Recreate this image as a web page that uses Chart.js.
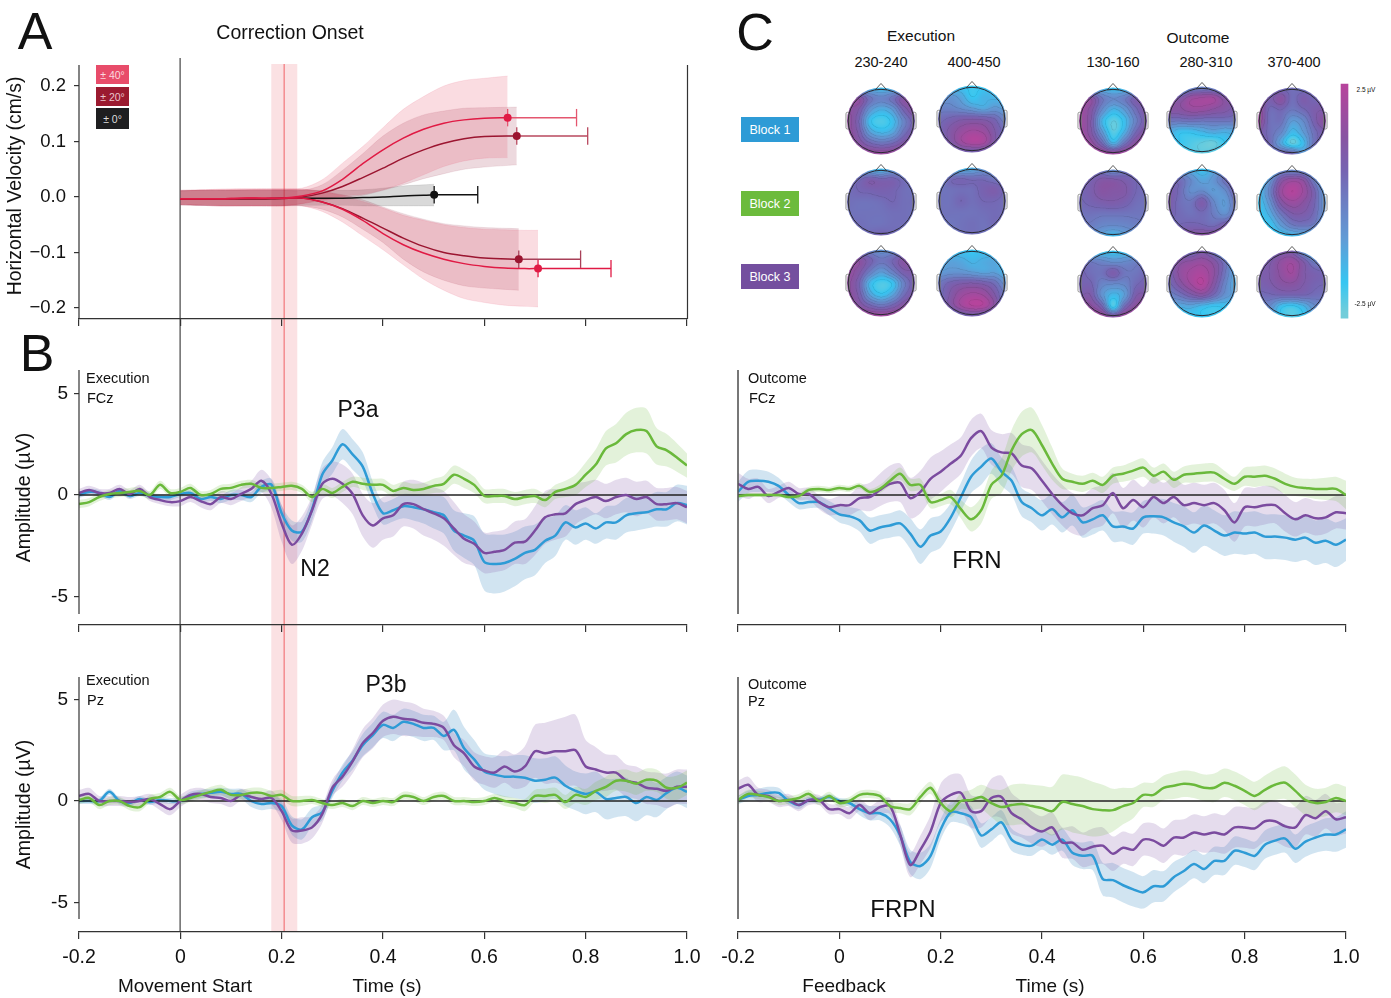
<!DOCTYPE html>
<html>
<head>
<meta charset="utf-8">
<title>Correction onset and ERP figure</title>
<script src="https://cdn.jsdelivr.net/npm/chart.js@4/dist/chart.umd.min.js"></script>
<style>
    html, body { margin: 0; padding: 0; background: #fff; }
    #figure { position: relative; width: 1391px; height: 998px; overflow: hidden; font-family: "Liberation Sans", Arial, sans-serif; color: #111; }
    #figure canvas { position: absolute; }
    .label { position: absolute; white-space: nowrap; line-height: 1; z-index: 5; }
    .box { position: absolute; z-index: 4; color: #fff; display: flex; align-items: center; justify-content: center; }
</style>
</head>
<body>
<div id="figure"></div>
<script>
// ---- shared time axis (s) for the ERP traces ----
const timePoints = [-0.2,-0.18,-0.16,-0.14,-0.12,-0.1,-0.08,-0.06,-0.04,-0.02,
    0,0.02,0.04,0.06,0.08,0.1,0.12,0.14,0.16,0.18,
    0.2,0.22,0.24,0.26,0.28,0.3,0.32,0.34,0.36,0.38,
    0.4,0.42,0.44,0.46,0.48,0.5,0.52,0.54,0.56,0.58,
    0.6,0.62,0.64,0.66,0.68,0.7,0.72,0.74,0.76,0.78,
    0.8,0.82,0.84,0.86,0.88,0.9,0.92,0.94,0.96,0.98,
    1];
const timeTicks = [-0.2, 0, 0.2, 0.4, 0.6, 0.8, 1];
const timeTickLabels = ['-0.2', '0', '0.2', '0.4', '0.6', '0.8', '1.0'];
const ampTicks = [5, 0, -5];
const ampTickLabels = ['5', '0', '-5'];
const velocityTicks = [0.2, 0.1, 0, -0.1, -0.2];
const velocityTickLabels = ['0.2', '0.1', '0.0', '\u22120.1', '\u22120.2'];

// ---- Execution FCz ----
const execFczBlue = [0,.15,.1,-.1,.2,-.05,.1,-.05,-.1,-.1,
    .05,.1,-.2,-.1,-.2,0,0,-.1,.4,.5,
    -.9,-1.75,-1.8,-.7,1,1.7,2.5,2,1.4,.05,
    -.9,-.75,-.55,-.6,-.7,-.85,-1,-1.75,-2,-2.25,
    -3.3,-3.4,-3.35,-3.15,-2.85,-2.7,-2.25,-2,-1.35,-1.6,
    -1.4,-1.65,-1.35,-1.35,-1,-.9,-.85,-.7,-.7,-.4,
    -.5];
const execFczPurple = [.1,.25,.1,.1,.3,.05,.3,-.1,-.25,-.35,
    -.3,-.1,-.3,-.45,-.1,-.2,.05,.3,.7,.05,
    -1.4,-2.45,-1.9,-.75,.55,.8,.55,.05,-1,-1.5,
    -1.15,-1,-.45,-.45,-.7,-.9,-1.15,-1.65,-2.15,-2.4,
    -2.85,-2.8,-2.7,-2.35,-2.3,-1.75,-1.1,-.95,-.9,-.45,
    -.25,-.1,-.3,-.1,0,-.2,-.1,-.45,-.45,-.4,
    -.6];
const execFczGreen = [-.45,-.35,-.1,.05,.1,.15,.2,0,.5,.1,
    .15,.35,0,.05,.3,.35,.5,.55,.35,.35,
    .4,.45,.3,-.1,.3,.1,.4,.65,.55,.5,
    .5,.2,.35,.25,.3,.45,.55,1,.8,.5,
    -.05,-.05,-.05,-.2,-.1,-.05,-.25,.15,.3,.5,
    1,1.5,2.3,2.55,3,3.2,3.15,2.4,2.2,1.85,
    1.45];
const execFczBlueErr = [.15,.15,.15,.15,.15,.15,.15,.15,.15,.15,
    .15,.15,.2,.2,.2,.25,.25,.25,.3,.3,
    .4,.5,.5,.55,.6,.65,.75,.75,.7,.6,
    .55,.55,.6,.65,.7,.8,.9,1,1.1,1.2,
    1.4,1.45,1.4,1.35,1.3,1.25,1.1,1,.85,.85,
    .8,.75,.8,.85,.85,.85,.8,.85,.85,.9,
    .95];
const execFczPurpleErr = [.2,.2,.2,.2,.2,.2,.2,.2,.2,.2,
    .25,.25,.3,.3,.3,.3,.35,.4,.55,.7,
    .9,.95,.85,.7,.75,.85,.95,1,1.05,1.1,
    1.05,1.05,1.1,1.2,1.3,1.3,1.35,1.3,1.2,1.1,
    1,1,1,1.05,1.1,1.2,1.3,1.25,1.15,1,
    .9,.85,.85,.85,.85,.85,.8,.8,.8,.8,
    .8];
const execFczGreenErr = [.2,.2,.2,.2,.2,.2,.2,.2,.2,.2,
    .2,.2,.2,.2,.2,.2,.2,.2,.2,.2,
    .2,.2,.2,.25,.25,.25,.25,.25,.3,.3,
    .3,.3,.3,.3,.3,.35,.4,.45,.45,.4,
    .35,.35,.35,.35,.35,.35,.35,.35,.4,.5,
    .6,.75,.85,.95,1.05,1.1,1.1,.9,.8,.7,
    .6];

// ---- Outcome FCz ----
const outFczBlue = [.15,.65,.7,.65,.45,0,-.4,-.35,-.35,-.65,
    -.95,-1.05,-1.25,-1.75,-1.6,-1.5,-1.4,-1.9,-2.55,-2,
    -1.8,-1.1,-.1,.9,1.4,1.8,1.15,.7,-.35,-.65,
    -1,-.7,-1.1,-.75,-1.35,-1.2,-1,-1.55,-1.55,-1.65,
    -1.1,-1.05,-1.1,-1.35,-1.55,-1.85,-1.5,-1.75,-2,-1.85,
    -1.9,-1.85,-2.05,-2.05,-2.1,-2.2,-2.1,-2.35,-2.25,-2.45,
    -2.2];
const outFczPurple = [.55,.3,.4,-.05,.15,.35,.05,.05,-.35,-.6,
    -.5,-.5,-.15,-.1,.25,.55,.6,-.15,.15,.8,
    1.15,1.55,1.95,2.8,3.15,2.35,2.1,2.05,1.45,1.3,
    .7,.05,-.5,-.9,-1,-.65,-.5,.1,-.65,-.25,
    -.6,-.1,-.4,-.1,-.5,-.4,-.5,-.4,-.75,-1.35,
    -.6,-.6,-.5,-.5,-.9,-1.2,-1,-1.15,-1.1,-.85,
    -.9];
const outFczGreen = [-.05,0,0,0,0,-.1,-.05,.25,.3,.25,
    .35,.3,.45,.15,.3,.7,1.05,.5,.5,-.35,
    -.25,-.1,-.7,-1.2,-.75,.5,.95,2.2,3,3.2,
    2.45,1.55,.8,.65,.55,.7,.5,.95,1.05,1.2,
    1.35,.95,1.15,.75,1,1.05,1.1,1.1,.8,.55,
    .9,.9,.95,.8,.55,.4,.35,.3,.3,.3,
    0];
const outFczBlueErr = [.5,.55,.55,.5,.4,.35,.3,.3,.3,.35,
    .4,.45,.55,.65,.6,.6,.65,.75,.85,.85,
    .8,.7,.7,.8,.9,.75,.7,.7,.7,.7,
    .75,.75,.75,.75,.75,.75,.75,.75,.75,.8,
    .8,.85,.9,.95,1,1,1,1,1,1.05,
    1.05,1.05,1.1,1.1,1.1,1.1,1.1,1.1,1.1,1.1,
    1.05];
const outFczPurpleErr = [.55,.5,.4,.35,.3,.3,.3,.3,.35,.4,
    .45,.5,.6,.7,.8,.9,.95,1,1.05,1.05,
    1,.95,.9,.9,.85,.85,.9,1,1.05,1.05,
    1,1,1,1,1,1,1,1,1,1,
    1,1,1,1,1,1,1,1,1,.95,
    .95,.95,.95,.9,.9,.85,.85,.85,.8,.8,
    .8];
const outFczGreenErr = [.1,.1,.1,.1,.1,.1,.15,.15,.15,.15,
    .15,.15,.15,.15,.2,.25,.3,.3,.3,.3,
    .3,.35,.45,.6,.65,.7,.85,1,1.1,1.1,
    1,.8,.5,.4,.4,.4,.4,.4,.4,.45,
    .45,.4,.4,.4,.4,.45,.45,.45,.4,.35,
    .45,.5,.5,.5,.5,.45,.45,.5,.55,.6,
    .7];

// ---- Execution Pz ----
const execPzBlue = [0,0,0,.45,0,-.1,.1,-.05,.05,0,
    0,.25,.35,.4,.45,.35,.35,0,-.15,-.1,
    -.25,-1.2,-1.4,-.8,-.55,.5,1.4,2,2.75,3.25,
    3.75,3.6,3.9,3.8,3.6,3.6,3.2,3.5,2.6,2.05,
    1.45,1.3,1.2,1.2,1.15,1,1.05,1.15,.75,.5,
    .35,.45,.1,.15,.2,-.1,.2,.05,.4,.65,
    .45];
const execPzPurple = [.25,.35,0,0,0,-.05,0,.1,-.15,-.4,
    0,.3,.35,.2,.15,0,.3,.2,.1,.15,
    -.5,-1.45,-1.45,-1.3,-.65,.65,1.2,1.95,2.85,3.35,
    3.95,4.15,4.05,4,3.85,3.8,3.6,2.75,2.35,1.7,
    1.5,1.4,1.7,1.45,1.7,2.45,2.35,2.45,2.45,2.5,
    1.7,1.55,1.4,1.4,1,.9,.65,.6,.5,.7,
    .7];
const execPzGreen = [.05,.15,-.2,0,0,-.25,-.3,.1,.2,.45,
    .05,.15,.3,.45,.55,.3,.3,.4,.4,.25,
    .3,0,0,.05,-.1,-.2,-.1,-.25,0,-.1,
    0,-.05,.25,.2,0,.2,.25,0,0,-.05,
    0,.15,0,-.1,-.2,.25,.25,.3,-.05,.3,
    .2,.5,.7,1,1,.85,1.05,1,.65,.65,
    .9];
const execPzBlueErr = [.15,.15,.15,.15,.15,.15,.15,.15,.15,.15,
    .15,.2,.2,.2,.2,.25,.25,.3,.3,.3,
    .35,.45,.5,.45,.4,.35,.4,.45,.55,.6,
    .65,.65,.65,.65,.65,.6,.7,1,1.05,.95,
    .9,.95,1,1.05,1.1,1.1,1.05,1.05,1,.95,
    1,1,1,.95,.95,.9,.9,.85,.8,.8,
    .8];
const execPzPurpleErr = [.3,.3,.25,.25,.25,.25,.25,.25,.3,.3,
    .3,.3,.3,.3,.3,.3,.3,.3,.3,.35,
    .45,.6,.65,.55,.45,.4,.5,.6,.7,.75,
    .8,.85,.85,.8,.7,.65,.6,.6,.65,.7,
    .7,.75,.8,.85,1,1.3,1.5,1.55,1.7,1.75,
    1.3,1.1,.9,.85,.8,.8,.8,.8,.85,.85,
    .85];
const execPzGreenErr = [.2,.2,.2,.2,.2,.2,.2,.2,.2,.2,
    .2,.2,.2,.25,.25,.25,.25,.25,.25,.25,
    .25,.25,.25,.2,.2,.2,.2,.2,.2,.2,
    .2,.2,.2,.2,.2,.2,.2,.2,.2,.2,
    .2,.2,.25,.25,.3,.3,.35,.35,.35,.4,
    .4,.45,.5,.5,.55,.55,.55,.55,.55,.6,
    .6];

// ---- Outcome Pz ----
const outPzBlue = [.05,.25,.3,.4,.4,0,-.2,.05,.05,.2,
    0,-.1,-.4,-.6,-.6,-.9,-1.7,-3,-3.2,-2.7,
    -1.4,-.55,-.6,-.8,-1.7,-1.4,-1.05,-1.9,-2.15,-2.2,
    -1.9,-2.15,-1.9,-2.55,-2.7,-2.7,-3.85,-3.9,-4.15,-4.35,
    -4.5,-4.2,-4.2,-3.75,-3.45,-3.1,-3.35,-2.95,-2.95,-2.45,
    -2.55,-2.7,-2.15,-1.95,-1.85,-2.35,-2,-1.8,-1.65,-1.65,
    -1.4];
const outPzPurple = [.6,.8,.3,.25,0,.05,-.2,.05,.05,-.4,
    -.4,-.6,-.2,-.6,-.3,-.25,-1.65,-3.15,-2.4,-1.5,
    -.1,.3,.4,-.5,-.5,.15,.2,-.6,-.9,-1.3,
    -1.5,-1.3,-2.05,-2.05,-2.4,-2.25,-2.2,-2.6,-2.3,-2.4,
    -1.9,-1.95,-2.2,-1.8,-1.8,-1.55,-1.65,-1.55,-1.65,-1.3,
    -1.3,-1.35,-1,-1,-1.25,-1.3,-.7,-.85,-.5,-.9,
    -.8];
const outPzGreen = [.05,.35,.3,.2,0,.05,.15,.35,0,.25,
    -.1,0,.3,.35,.25,-.25,-.35,-.4,.2,.65,
    -.1,-.5,0,.05,.2,-.1,-.3,-.2,-.15,-.25,
    -.35,-.5,-.05,-.15,-.25,-.4,-.45,-.45,-.25,-.1,
    .3,.3,.65,.75,.85,.8,.65,.65,.9,.75,
    .5,.25,.55,.8,.9,.5,.05,-.1,-.05,.15,
    0];
const outPzBlueErr = [.2,.25,.3,.3,.25,.2,.2,.15,.15,.15,
    .15,.2,.3,.35,.35,.4,.5,.6,.65,.6,
    .5,.5,.5,.55,.6,.6,.6,.55,.5,.5,
    .5,.5,.55,.6,.65,.7,.8,.85,.85,.85,
    .8,.8,.75,.75,.7,.7,.7,.7,.7,.7,
    .7,.7,.7,.7,.7,.7,.75,.75,.8,.85,
    .9];
const outPzPurpleErr = [.4,.4,.35,.3,.3,.3,.3,.25,.25,.25,
    .25,.3,.3,.35,.35,.4,.5,.6,.7,.8,
    .95,1,.9,.8,.8,.95,1.05,1,.9,.8,
    .75,.75,.75,.8,.85,.9,.9,.85,.8,.8,
    .8,.85,.85,.85,.9,.9,.9,.95,.95,1,
    1,1,1,1,1,1,.95,.9,.85,.8,
    .8];
const outPzGreenErr = [.2,.2,.2,.2,.2,.2,.2,.2,.2,.2,
    .2,.2,.2,.2,.2,.25,.25,.3,.3,.3,
    .3,.3,.4,.5,.6,.7,.85,1,1,1.05,
    1.1,1.2,1.35,1.4,1.4,1.35,1.25,1.05,.9,.75,
    .6,.6,.6,.65,.65,.65,.65,.7,.7,.7,
    .7,.7,.7,.75,.8,.8,.75,.7,.7,.7,
    .7];

// ---- Panel A: horizontal velocity, one curve per perturbation ----
const velTimes = [0,.04,.08,.12,.16,.2,.24,.28,.32,.36,.4,.44,.48,.52,.56,.6,.64,.68];
const velPlus40 = [-.003,-.003,-.003,-.002,-.002,-.002,.002,.011,.032,.06,.085,.106,.122,.133,.139,.142,.143];
const velPlus40Hi = [.012,.013,.014,.015,.015,.015,.016,.031,.061,.091,.125,.158,.181,.2,.21,.214,.218];
const velPlus40Lo = [-.014,-.015,-.016,-.016,-.016,-.016,-.012,-.005,.002,.005,.013,.025,.04,.055,.065,.07,.071];
const velPlus20 = [-.004,-.004,-.003,-.003,-.003,-.003,0,.007,.019,.035,.052,.07,.085,.097,.105,.109,.11];
const velPlus20Hi = [.011,.012,.012,.012,.012,.012,.012,.022,.048,.078,.11,.133,.148,.155,.16,.161,.162];
const velPlus20Lo = [-.014,-.015,-.016,-.016,-.016,-.016,-.012,-.006,-.002,.003,.012,.022,.033,.042,.05,.054,.058];
const velZero = [-.003,-.003,-.003,-.003,-.003,-.002,-.002,-.002,-.002,-.001,0,.002,.003,.004];
const velZeroHi = [.012,.012,.012,.012,.012,.012,.012,.012,.012,.013,.016,.02,.022,.023];
const velZeroLo = [-.014,-.015,-.015,-.015,-.015,-.015,-.015,-.015,-.015,-.016,-.016,-.016,-.016,-.016];
const velMinus20 = [-.004,-.004,-.003,-.003,-.003,-.002,-.002,-.009,-.021,-.038,-.056,-.074,-.089,-.1,-.106,-.11,-.112];
const velMinus20Hi = [.011,.012,.012,.013,.014,.014,.014,.01,.004,-.005,-.018,-.03,-.04,-.048,-.052,-.055,-.057];
const velMinus20Lo = [-.014,-.015,-.016,-.016,-.016,-.016,-.016,-.022,-.036,-.058,-.082,-.112,-.135,-.15,-.16,-.164,-.168];
const velMinus40 = [-.003,-.003,-.003,-.002,-.002,-.002,-.002,-.009,-.022,-.042,-.066,-.086,-.101,-.112,-.12,-.125,-.128,-.129,-.129];
const velMinus40Hi = [.012,.013,.014,.014,.014,.014,.014,.01,.002,-.008,-.02,-.033,-.042,-.05,-.055,-.058,-.059,-.06,-.06];
const velMinus40Lo = [-.014,-.015,-.016,-.016,-.016,-.016,-.016,-.026,-.045,-.07,-.095,-.122,-.148,-.168,-.183,-.19,-.195,-.197,-.198];
const velEndTimes = [0.646, 0.664, 0.501, 0.668, 0.706];
const velErrorEnds = [0.782, 0.804, 0.587, 0.79, 0.85];

// ---- Panel C: scalp maps, 7x7 grids read by eye, rows run front to back ----
const topoExec230Block1 = [-1.5,-1.5,-1.5,-1.8,-1.5,-1.5,-1.5, 1.2,1.5,.2,-.3,.2,1.3,1.2, 1.6,1,-.8,-1.5,-1,.6,1.5, 1.8,.6,-1.8,-2.3,-1.8,-.3,.8, 1.8,.9,-1,-1.6,-1.2,.2,1, 2,1.4,.6,.2,.5,1.2,1.6, 2.3,2.3,2,2,2,2.2,2.3];
const topoExec400Block1 = [-1.5,-1.8,-1.9,-2.1,-2,-1.6,-1.5, -1,-.8,-1.2,-2,-1.6,-1.6,-1.5, -.3,-.3,-.6,-1,-1.3,-.9,-1.2, .3,.6,.9,1,.9,.5,-.4, .5,1.1,1.7,2,1.8,1,.2, .3,1,1.9,2.4,2.2,1,0, -.3,0,.6,.6,.6,0,-.5];
const topoOut130Block1 = [-1.5,-1.3,-1.6,-1.9,-1.8,-1.5,-1.5, 1.6,1.5,.1,-.5,-.1,.8,.8, 2,1.3,-.5,-1.6,-1,.3,1.2, 2,1.1,-1.5,-2.5,-1.8,-.2,1, 2.1,1.2,-.8,-2.4,-1.4,.5,1.4, 2.4,1.8,.5,-1.4,.2,1.6,2.2, 2.5,2.5,2.3,2.2,2.3,2.5,2.5];
const topoOut280Block1 = [-1.3,-1.8,-.6,-.3,-.5,-1,-1, .9,1,1.8,2,2,1.2,.9, 1.4,1.4,1.8,1.8,1.5,1.2,.8, .2,.2,.3,.2,.2,.2,.1, -1.2,-1.8,-1.8,-1.5,-1.2,-1.4,-1.2, -1.5,-2,-2.3,-2.5,-2.6,-2,-1.5, -2,-2,-2.3,-2.5,-2.3,-2,-1.8];
const topoOut370Block1 = [0,.3,.3,.3,.1,.3,.3, 1.5,.8,1.4,.3,.9,.5,1, 2,.4,.5,0,.4,.9,1, 2,.3,.2,-1,-.5,.8,1.6, 1,.3,-.4,-1.7,-1,.3,.9, .8,.4,-1.2,-2.5,-1.7,.3,.8, .2,.3,.8,.7,-.8,.8,.8];
const topoExec230Block2 = [-.8,-.8,-1.5,-1.8,-1,-.8,-.7, .3,.4,.9,.7,.7,.3,.2, .3,.5,.6,.7,.6,.3,.2, .3,.2,.2,.3,.5,.3,.3, .2,.2,.2,.2,.3,.3,.2, .3,.3,.2,.2,.3,.3,.3, .3,.3,.4,.6,.4,.3,.3];
const topoExec400Block2 = [-1.5,-1.6,-1.8,-1.5,-.9,-.9,-.7, -.6,.3,.5,.4,.4,.1,0, .1,.2,.3,.3,.7,.9,.3, .2,.2,.5,.3,.5,.5,.3, .2,.2,.2,.2,.3,.4,.3, .2,.1,.2,.3,.2,.4,.3, 0,.1,.2,.3,.2,.1,0];
const topoOut130Block2 = [.2,.2,0,-.6,0,.2,.2, .5,.7,1.2,1.2,.9,.5,.3, .5,.8,1.3,1.2,1.1,.5,.3, .4,.6,.8,.9,.7,.3,.2, .2,.2,.1,.1,.1,.1,.1, 0,-.1,-.4,-.5,-.4,-.2,0, -.5,-.6,-1.2,-1.8,-1.2,-.7,-.5];
const topoOut280Block2 = [-1,-1.2,-1.5,-1.9,-1.3,-.4,.5, .2,.3,-.5,-1.2,-.8,.2,.9, .9,.4,-.6,-.5,-1,-.6,.7, 1,.3,.1,.9,-.4,-1,.2, .7,.4,.2,.4,-.1,-.7,.3, .4,.5,.6,.5,.3,.8,1.3, 1,1.1,1.3,1.5,1.5,1.7,1.7];
const topoOut370Block2 = [-2,-2,-.5,-.5,-.5,-1.6,-1.8, -1.8,-.8,1.2,1.9,1.5,-.2,-1.5, -1.8,-.3,1.8,2.5,1.9,.6,-1.2, -2,-.8,1.1,1.8,1.4,.5,-1, -2.1,-1.4,0,.9,.9,.3,-1, -2.1,-2,-1,-.1,.1,-.2,-1.3, -2,-2.1,-2,-1.8,-1.6,-1.8,-2];
const topoExec230Block3 = [-.5,-.2,-.3,-.8,-.5,-.2,-.3, 1.5,1.5,.7,.1,.5,1.3,1, 1.8,1.2,-.1,-1,-.2,.8,1, 1.7,.7,-1.6,-2.3,-1.9,-.2,.9, 1.7,.9,-1.1,-1.9,-1.2,.3,1.1, 2,1.4,.6,.1,.6,1.4,1.8, 2.3,2.3,2.2,2.2,2.2,2.3,2.3];
const topoExec400Block3 = [-1.8,-1.9,-1.9,-2,-1.9,-1.9,-1.8, -1.5,-1.2,-1.3,-1.6,-1.4,-1.3,-1.8, -1,-.8,-.8,-1,-1.2,-1.1,-1.6, 0,.6,.9,1,.8,.3,-.8, .2,1,1.8,2.1,1.9,1,-.2, 0,1,2,2.5,2.4,1.3,-.5, -1.2,-.6,.3,.6,.3,-.6,-1.3];
const topoOut130Block3 = [-1.8,-1.9,-2,-2,-1.9,-1.6,-1.2, .3,0,-.3,-.6,-.5,-.2,.1, .7,.3,.2,.9,.1,.1,.5, .6,.6,-.3,-.5,-.4,.4,.7, .9,1,-.7,-1.7,-1,.9,1.1, 1.8,1.6,.6,-2.2,.4,1.6,1.9, 2.3,2.3,2.2,1.5,2.2,2.3,2.2];
const topoOut280Block3 = [-.6,.2,.2,.9,.1,-1.6,-2, .5,1.3,1.6,1.8,1.3,.1,-1.6, .6,1.6,2.1,2.3,1.6,.1,-1.4, .3,1.2,2,2.5,1.3,-.3,-1.5, -.4,.1,.8,1.2,.4,-.7,-1.2, -1.4,-1.4,-1.3,-1.7,-2,-1.9,-1.6, -2.1,-2.1,-2,-2,-2,-1.8,-1.8];
const topoOut370Block3 = [.3,.3,.8,.8,-.8,-2.4,-2, .8,.9,1.6,1.9,1,-.2,-.2, .9,1,1.6,2,1.1,.7,.5, .7,.9,1.3,1.4,1,.6,.5, .3,.4,.5,.5,.5,.3,.2, -.4,-.5,-1.8,-2.1,-1.6,-.6,-.3, -.7,-1,-2,-2.4,-2,-1,-.6];
const topoGridCoords = [-1, -0.667, -0.333, 0, 0.333, 0.667, 1];

const blueLine = '#2e9bd6', greenLine = '#6ab93b', purpleLine = '#7b4b9f';
const blueBand = 'rgba(46,130,190,0.22)', greenBand = 'rgba(106,185,59,0.19)', purpleBand = 'rgba(123,80,165,0.2)';
const axisColor = '#333';
const fontFamily = '"Liberation Sans", Arial, sans-serif';
const onsetBand = [0.1795, 0.2308];
const onsetLine = 0.205;

const figure = document.getElementById('figure');

function addCanvas(left, top, width, height) {
    const canvas = document.createElement('canvas');
    canvas.width = width;
    canvas.height = height;
    canvas.style.left = left + 'px';
    canvas.style.top = top + 'px';
    canvas.style.width = width + 'px';
    canvas.style.height = height + 'px';
    figure.appendChild(canvas);
    return canvas;
}

function addLabel(text, x, y, size, align) {
    const el = document.createElement('div');
    el.className = 'label';
    el.textContent = text;
    el.style.left = x + 'px';
    el.style.top = y + 'px';
    el.style.fontSize = size + 'px';
    el.style.transform = align === 'left' ? 'translateY(-50%)' : 'translate(-50%,-50%)';
    figure.appendChild(el);
}

function addBox(text, x, y, w, h, color, size, textColor) {
    const el = document.createElement('div');
    el.className = 'box';
    el.textContent = text;
    el.style.cssText += `left:${x}px;top:${y}px;width:${w}px;height:${h}px;background:${color};font-size:${size}px;`;
    if (textColor) el.style.color = textColor;
    figure.appendChild(el);
}

// draws the onset band, the zero-time line and the detached spines
const panelGuides = {
    id: 'panelGuides',
    beforeDraw(chart, args, opts) {
        const { ctx, scales: { x } } = chart;
        if (!opts.guides) return;
        const bottom = opts.guideBottom === undefined ? chart.height : opts.guideBottom;
        const x1 = x.getPixelForValue(onsetBand[0]);
        const x2 = x.getPixelForValue(onsetBand[1]);
        ctx.save();
        ctx.fillStyle = '#fbe1e3';
        ctx.fillRect(x1, opts.bandTop, x2 - x1, bottom - opts.bandTop);
        ctx.fillStyle = '#f48c90';
        ctx.fillRect(x.getPixelForValue(onsetLine) - 0.75, opts.bandTop, 1.5, bottom - opts.bandTop);
        ctx.fillStyle = '#444';
        ctx.fillRect(Math.round(x.getPixelForValue(0)) - 0.5, opts.zeroTop, 1.2, bottom - opts.zeroTop);
        ctx.restore();
    },
    afterDraw(chart, args, opts) {
        const { ctx, scales: { x, y } } = chart;
        ctx.save();
        ctx.strokeStyle = opts.spineColor || axisColor;
        ctx.lineWidth = opts.spineWidth || 1.2;
        ctx.beginPath();
        ctx.moveTo(x.left, y.getPixelForValue(opts.spineTop));
        ctx.lineTo(x.left, y.getPixelForValue(opts.spineBottom));
        if (opts.rightSpine) {
            ctx.moveTo(x.right + 0.5, y.getPixelForValue(opts.spineTop));
            ctx.lineTo(x.right + 0.5, y.bottom);
        }
        ctx.stroke();
        ctx.restore();
    }
};

function pointsOf(times, values) {
    return values.map((v, i) => ({ x: times[i], y: v }));
}

function bandDatasets(values, errors, color) {
    return [
        { data: pointsOf(timePoints, values.map((v, i) => v + errors[i])), borderWidth: 0, pointRadius: 0, tension: 0.3, fill: '+1', backgroundColor: color },
        { data: pointsOf(timePoints, values.map((v, i) => v - errors[i])), borderWidth: 0, pointRadius: 0, tension: 0.3, fill: false }
    ];
}

function traceDataset(values, color) {
    return { data: pointsOf(timePoints, values), borderColor: color, borderWidth: 2.5, pointRadius: 0, tension: 0.3, fill: false };
}

function timeScale(showLabels, height) {
    return {
        type: 'linear',
        min: -0.2,
        max: 1,
        afterBuildTicks: s => { s.ticks = timeTicks.map(v => ({ value: v })); },
        afterFit: s => { s.height = height; s.paddingLeft = 0; s.paddingRight = 0; },
        border: { display: true, color: axisColor, width: 1.2 },
        grid: { drawOnChartArea: false, drawTicks: true, tickLength: 7, color: axisColor, lineWidth: 1.2 },
        ticks: {
            display: showLabels,
            autoSkip: false,
            maxRotation: 0,
            padding: 7,
            color: '#111',
            font: { family: fontFamily, size: 19.5 },
            callback: (v, i) => timeTickLabels[i]
        }
    };
}

// one ERP panel: three traces, three bands, zero line
function erpPanel(o) {
    const zeroLine = { data: [{ x: -0.2, y: 0 }, { x: 1, y: 0 }], borderColor: '#222', borderWidth: 1.4, pointRadius: 0, fill: false };
    new Chart(addCanvas(o.left, o.top, o.width, o.height), {
        type: 'line',
        data: {
            datasets: [
                traceDataset(o.green, greenLine),
                traceDataset(o.purple, purpleLine),
                zeroLine,
                traceDataset(o.blue, blueLine),
                ...bandDatasets(o.green, o.greenErr, greenBand),
                ...bandDatasets(o.purple, o.purpleErr, purpleBand),
                ...bandDatasets(o.blue, o.blueErr, blueBand)
            ]
        },
        plugins: [panelGuides],
        options: {
            responsive: false,
            animation: false,
            layout: { padding: { left: 0, top: o.padTop, right: o.padRight, bottom: 0 } },
            plugins: {
                legend: { display: false },
                tooltip: { enabled: false },
                panelGuides: {
                    guides: o.guides, bandTop: 0, zeroTop: 0, guideBottom: o.guideBottom,
                    spineTop: o.yMax, spineBottom: o.spineBottom,
                    spineColor: o.guides ? axisColor : '#555', spineWidth: o.guides ? 1.2 : 1.6
                }
            },
            scales: {
                x: timeScale(o.showTimeLabels, o.xHeight),
                y: {
                    type: 'linear',
                    min: o.yMin,
                    max: o.yMax,
                    afterBuildTicks: s => { s.ticks = ampTicks.map(v => ({ value: v })); },
                    afterFit: s => { s.width = o.yWidth; s.paddingTop = 0; s.paddingBottom = 0; },
                    border: { display: false },
                    grid: { display: o.guides, drawOnChartArea: false, drawTicks: true, tickLength: 5, color: axisColor, lineWidth: 1.2 },
                    title: {
                        display: o.guides,
                        text: 'Amplitude (\u00b5V)',
                        color: '#111',
                        font: { family: fontFamily, size: 19.5 },
                        padding: { top: 13, bottom: 0 }
                    },
                    ticks: {
                        display: o.guides,
                        padding: 6,
                        color: '#111',
                        font: { family: fontFamily, size: 19 },
                        callback: (v, i) => ampTickLabels[i]
                    }
                }
            }
        }
    });
}

// ---- Panel A ----
function velocitySeries(mean, hi, lo, index, lineColor, bandColor, errorColor) {
    const times = velTimes.slice(0, mean.length - 1).concat(velEndTimes[index]);
    const endTime = velEndTimes[index];
    const endValue = mean[mean.length - 1];
    const capHalf = 0.0157;
    return {
        lines: [
            { data: [{ x: endTime, y: endValue }], pointRadius: 4, pointBackgroundColor: lineColor, pointBorderWidth: 0, showLine: false, fill: false },
            { data: [{ x: endTime, y: endValue - capHalf }, { x: endTime, y: endValue + capHalf }], borderColor: errorColor, borderWidth: 1.3, pointRadius: 0, fill: false },
            { data: [{ x: velErrorEnds[index], y: endValue - capHalf }, { x: velErrorEnds[index], y: endValue + capHalf }], borderColor: errorColor, borderWidth: 1.3, pointRadius: 0, fill: false },
            { data: [{ x: endTime, y: endValue }, { x: velErrorEnds[index], y: endValue }], borderColor: errorColor, borderWidth: 1.5, pointRadius: 0, fill: false },
            { data: pointsOf(times, mean), borderColor: lineColor, borderWidth: 1.5, pointRadius: 0, tension: 0.3, fill: false }
        ],
        bands: [
            { data: pointsOf(times, hi), borderColor: bandColor, borderWidth: 0.6, pointRadius: 0, tension: 0.3, fill: '+1', backgroundColor: bandColor },
            { data: pointsOf(times, lo), borderColor: bandColor, borderWidth: 0.6, pointRadius: 0, tension: 0.3, fill: false }
        ]
    };
}

const velocityGroups = [
    velocitySeries(velPlus40, velPlus40Hi, velPlus40Lo, 0, '#e01a44', 'rgba(226,60,90,0.18)', '#e4566f'),
    velocitySeries(velMinus40, velMinus40Hi, velMinus40Lo, 4, '#e01a44', 'rgba(226,60,90,0.18)', '#e01a44'),
    velocitySeries(velPlus20, velPlus20Hi, velPlus20Lo, 1, '#9b1530', 'rgba(140,20,50,0.16)', '#b8485e'),
    velocitySeries(velMinus20, velMinus20Hi, velMinus20Lo, 3, '#9b1530', 'rgba(140,20,50,0.16)', '#a84058'),
    velocitySeries(velZero, velZeroHi, velZeroLo, 2, '#111', 'rgba(0,0,0,0.15)', '#111')
];

new Chart(addCanvas(0, 0, 712, 326), {
    type: 'line',
    data: {
        datasets: [
            ...velocityGroups.flatMap(g => g.lines),
            ...velocityGroups.flatMap(g => g.bands)
        ]
    },
    plugins: [panelGuides],
    options: {
        responsive: false,
        animation: false,
        layout: { padding: { left: 0, top: 53, right: 25, bottom: 0 } },
        plugins: {
            legend: { display: false },
            tooltip: { enabled: false },
            panelGuides: { guides: true, bandTop: 64, zeroTop: 58, spineTop: 0.2378, spineBottom: -0.2198, rightSpine: true }
        },
        scales: {
            x: timeScale(false, 7),
            y: {
                type: 'linear',
                min: -0.2198,
                max: 0.2595,
                afterBuildTicks: s => { s.ticks = velocityTicks.map(v => ({ value: v })); },
                afterFit: s => { s.width = 79; s.paddingTop = 0; s.paddingBottom = 0; },
                border: { display: false },
                grid: { drawOnChartArea: false, drawTicks: true, tickLength: 5, color: axisColor, lineWidth: 1.2 },
                title: {
                    display: true,
                    text: 'Horizontal Velocity (cm/s)',
                    color: '#111',
                    font: { family: fontFamily, size: 19.4 },
                    padding: { top: 4, bottom: 0 }
                },
                ticks: {
                    padding: 8,
                    color: '#111',
                    font: { family: fontFamily, size: 18.5 },
                    callback: (v, i) => velocityTickLabels[i]
                }
            }
        }
    }
});

// ---- Panel B ----
const leftColumn = { left: 0, width: 712, padRight: 25, yWidth: 79, guides: true };
const rightColumn = { left: 712, width: 679, padRight: 45, yWidth: 26, guides: false };
const upperRow = { top: 326, height: 306, padTop: 44, xHeight: 7, showTimeLabels: false, yMin: -6.404, yMax: 6.158, spineBottom: -5.86 };
const lowerRow = { top: 632, height: 366, padTop: 45, xHeight: 66, showTimeLabels: true, yMin: -6.453, yMax: 6.108, spineBottom: -5.81 };

erpPanel({ ...leftColumn, ...upperRow, blue: execFczBlue, purple: execFczPurple, green: execFczGreen, blueErr: execFczBlueErr, purpleErr: execFczPurpleErr, greenErr: execFczGreenErr });
erpPanel({ ...rightColumn, ...upperRow, blue: outFczBlue, purple: outFczPurple, green: outFczGreen, blueErr: outFczBlueErr, purpleErr: outFczPurpleErr, greenErr: outFczGreenErr });
erpPanel({ ...leftColumn, ...lowerRow, guideBottom: 300, blue: execPzBlue, purple: execPzPurple, green: execPzGreen, blueErr: execPzBlueErr, purpleErr: execPzPurpleErr, greenErr: execPzGreenErr });
erpPanel({ ...rightColumn, ...lowerRow, blue: outPzBlue, purple: outPzPurple, green: outPzGreen, blueErr: outPzBlueErr, purpleErr: outPzPurpleErr, greenErr: outPzGreenErr });

// ---- Panel C ----
const colorStops = [
    [2.6, 182, 68, 156], [1.4, 136, 84, 162], [0.6, 118, 100, 178], [0, 110, 122, 192],
    [-1, 96, 156, 214], [-2, 54, 198, 242], [-2.7, 114, 205, 218]
];

function colorFor(v) {
    if (v >= colorStops[0][0]) return colorStops[0].slice(1);
    for (let i = 1; i < colorStops.length; i++) {
        if (v >= colorStops[i][0]) {
            const a = colorStops[i - 1], b = colorStops[i];
            const f = (v - b[0]) / (a[0] - b[0]);
            return [b[1] + (a[1] - b[1]) * f, b[2] + (a[2] - b[2]) * f, b[3] + (a[3] - b[3]) * f];
        }
    }
    return colorStops[colorStops.length - 1].slice(1);
}

function cubic(a, b, c, d, t) {
    return b + 0.5 * t * (c - a + t * (2 * a - 5 * b + 4 * c - d + t * (3 * (b - c) + d - a)));
}

function sampleGrid(cells, hx, hy) {
    const n = 7;
    const gx = Math.min(n - 1.001, Math.max(0, (hx + 1) / 2 * (n - 1)));
    const gy = Math.min(n - 1.001, Math.max(0, (hy + 1) / 2 * (n - 1)));
    const ix = Math.floor(gx), iy = Math.floor(gy);
    const at = (r, c) => cells[Math.min(n - 1, Math.max(0, r)) * n + Math.min(n - 1, Math.max(0, c))].v;
    const rows = [];
    for (let r = -1; r <= 2; r++) {
        rows.push(cubic(at(iy + r, ix - 1), at(iy + r, ix), at(iy + r, ix + 1), at(iy + r, ix + 2), gx - ix));
    }
    return cubic(rows[0], rows[1], rows[2], rows[3], gy - iy);
}

// paints the grid of the chart's only dataset as a smooth map, then the head outline
const scalpMap = {
    id: 'scalpMap',
    afterDatasetsDraw(chart) {
        const { ctx, scales: { x, y } } = chart;
        const cells = chart.data.datasets[0].data;
        const px = v => x.getPixelForValue(v), py = v => y.getPixelForValue(v);
        const res = 3;
        const w = chart.width * res, h = chart.height * res;
        const values = new Float32Array(w * h);
        for (let j = 0; j < h; j++) {
            for (let i = 0; i < w; i++) {
                values[j * w + i] = sampleGrid(cells, x.getValueForPixel(i / res), y.getValueForPixel(j / res));
            }
        }
        const off = document.createElement('canvas');
        off.width = w;
        off.height = h;
        const offCtx = off.getContext('2d');
        const img = offCtx.createImageData(w, h);
        const step = 0.5;
        for (let j = 0; j < h - 1; j++) {
            for (let i = 0; i < w - 1; i++) {
                const k = j * w + i;
                const col = colorFor(values[k]);
                const hx = x.getValueForPixel(i / res), hy = y.getValueForPixel(j / res);
                const band = Math.floor(values[k] / step);
                const isContour = band !== Math.floor(values[k + 1] / step) || band !== Math.floor(values[k + w] / step);
                const shade = isContour && hx * hx + hy * hy < 0.9 ? 0.8 : 1;
                img.data[k * 4] = col[0] * shade;
                img.data[k * 4 + 1] = col[1] * shade;
                img.data[k * 4 + 2] = col[2] * shade;
                img.data[k * 4 + 3] = 255;
            }
        }
        offCtx.putImageData(img, 0, 0);

        const cx = px(0), cy = py(0), rx = px(1) - cx, ry = py(1) - cy;
        ctx.save();
        ctx.beginPath();
        ctx.ellipse(cx, cy, rx, ry, 0, 0, Math.PI * 2);
        ctx.clip();
        ctx.imageSmoothingEnabled = true;
        ctx.imageSmoothingQuality = 'high';
        ctx.drawImage(off, 0, 0, chart.width, chart.height);
        ctx.restore();

        ctx.save();
        // ears
        ctx.strokeStyle = '#777';
        ctx.lineWidth = 0.8;
        [[-1.03, -0.93], [0.93, 1.03]].forEach(ear => {
            ctx.beginPath();
            ctx.roundRect(px(ear[0]), py(-0.26), px(ear[1]) - px(ear[0]), py(0.24) - py(-0.26), 1.5);
            ctx.stroke();
        });
        // nose
        ctx.strokeStyle = '#333';
        ctx.beginPath();
        ctx.moveTo(px(-0.17), py(-0.93));
        ctx.lineTo(px(0), py(-1.12));
        ctx.lineTo(px(0.17), py(-0.93));
        ctx.stroke();
        // outline
        ctx.strokeStyle = '#2a2a33';
        ctx.lineWidth = 1;
        ctx.beginPath();
        ctx.ellipse(cx, cy, rx * 0.965, ry * 0.945, 0, 0, Math.PI * 2);
        ctx.stroke();
        ctx.restore();
    }
};

function topoPanel(values, centerX, centerY) {
    const cells = values.map((v, i) => ({ x: topoGridCoords[i % 7], y: topoGridCoords[Math.floor(i / 7)], v: v }));
    const halfW = 42, halfH = 44, radiusX = 34, radiusY = 33.5;
    new Chart(addCanvas(centerX - halfW, centerY - halfH, halfW * 2, halfH * 2), {
        type: 'scatter',
        data: { datasets: [{ data: cells, pointRadius: 0 }] },
        plugins: [scalpMap],
        options: {
            responsive: false,
            animation: false,
            events: [],
            layout: { padding: 0 },
            plugins: { legend: { display: false }, tooltip: { enabled: false } },
            scales: {
                x: { type: 'linear', display: false, min: -halfW / radiusX, max: halfW / radiusX },
                y: { type: 'linear', display: false, reverse: true, min: -halfH / radiusY, max: halfH / radiusY }
            }
        }
    });
}

const headColumns = [881, 972, 1113, 1202, 1292];
const headRows = [[121, 119, 121, 120, 121], [202, 201, 203, 202, 203], [283, 283, 284, 284, 284]];
const topoRows = [
    [topoExec230Block1, topoExec400Block1, topoOut130Block1, topoOut280Block1, topoOut370Block1],
    [topoExec230Block2, topoExec400Block2, topoOut130Block2, topoOut280Block2, topoOut370Block2],
    [topoExec230Block3, topoExec400Block3, topoOut130Block3, topoOut280Block3, topoOut370Block3]
];
topoRows.forEach((row, r) => row.forEach((values, c) => topoPanel(values, headColumns[c], headRows[r][c])));

// color bar, one floating bar on the same microvolt scale
new Chart(addCanvas(1335, 80, 19, 245), {
    type: 'bar',
    data: {
        labels: ['scale'],
        datasets: [{
            data: [[-2.83, 2.64]],
            barThickness: 7,
            backgroundColor: ctx => {
                const { chart } = ctx;
                const yScale = chart.scales.y;
                const top = yScale ? yScale.getPixelForValue(2.64) : NaN;
                const bottom = yScale ? yScale.getPixelForValue(-2.83) : NaN;
                if (!isFinite(top) || !isFinite(bottom)) return '#6a70b8';
                const grad = chart.ctx.createLinearGradient(0, top, 0, bottom);
                colorStops.forEach(s => {
                    const pos = (2.64 - s[0]) / (2.64 + 2.83);
                    grad.addColorStop(Math.min(1, Math.max(0, pos)), `rgb(${s[1]},${s[2]},${s[3]})`);
                });
                return grad;
            }
        }]
    },
    options: {
        responsive: false,
        animation: false,
        layout: { padding: 0 },
        plugins: { legend: { display: false }, tooltip: { enabled: false } },
        scales: {
            x: { display: false },
            y: { display: false, min: -2.99, max: 2.734 }
        }
    }
});

// ---- text and legend boxes ----
addLabel('A', 35, 31, 52);
addLabel('B', 37, 353, 52);
addLabel('C', 755, 32, 52);
addLabel('Correction Onset', 290, 33, 19.5);
addLabel('Execution', 921, 36, 15.5);
addLabel('Outcome', 1198, 38, 15.5);
addLabel('230-240', 881, 62, 14.5);
addLabel('400-450', 974, 62, 14.5);
addLabel('130-160', 1113, 62, 14.5);
addLabel('280-310', 1206, 62, 14.5);
addLabel('370-400', 1294, 62, 14.5);
addLabel('2.5 \u00b5V', 1366, 90, 6.5);
addLabel('-2.5 \u00b5V', 1365, 304, 6.5);

addLabel('Execution', 86, 378, 14.5, 'left');
addLabel('FCz', 87, 398, 14.5, 'left');
addLabel('Outcome', 748, 378, 14.5, 'left');
addLabel('FCz', 749, 398, 14.5, 'left');
addLabel('Execution', 86, 680, 14.5, 'left');
addLabel('Pz', 87, 700, 14.5, 'left');
addLabel('Outcome', 748, 684, 14.5, 'left');
addLabel('Pz', 748, 701, 14.5, 'left');

addLabel('P3a', 358, 409, 23);
addLabel('N2', 315, 568, 23);
addLabel('P3b', 386, 684, 23);
addLabel('FRN', 977, 560, 24);
addLabel('FRPN', 903, 909, 24);

addLabel('Movement Start', 185, 985, 19);
addLabel('Time (s)', 387, 985, 19);
addLabel('Feedback', 844, 985, 19);
addLabel('Time (s)', 1050, 985, 19);

addBox('\u00b1 40\u00b0', 96, 65, 33, 19, '#e84c6a', 10.5, '#fbd9df');
addBox('\u00b1 20\u00b0', 96, 87, 33, 19, '#9b1a30', 10.5, '#e9c4cb');
addBox('\u00b1 0\u00b0', 96, 108, 33, 21, '#1e1e20', 10.5, '#ddd');
addBox('Block 1', 741, 117, 58, 25, '#2e9bd6', 12.5);
addBox('Block 2', 741, 191, 58, 25, '#6cbb3c', 12.5);
addBox('Block 3', 741, 264, 58, 25, '#744f9f', 12.5);
</script>
</body>
</html>
